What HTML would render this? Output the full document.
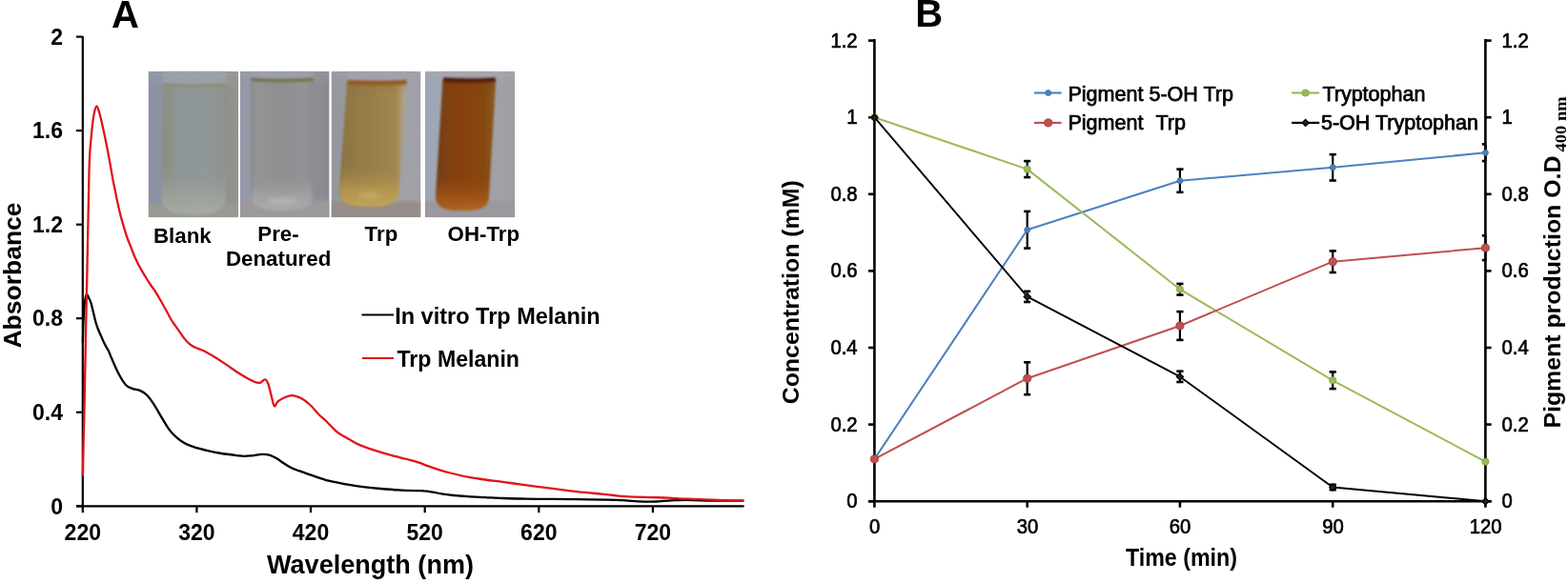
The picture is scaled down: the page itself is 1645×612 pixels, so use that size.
<!DOCTYPE html>
<html><head><meta charset="utf-8"><title>Figure</title>
<style>html,body{margin:0;padding:0;background:#fff;}svg{display:block;}</style>
</head><body>
<svg width="1645" height="612" viewBox="0 0 1645 612">
<rect width="1645" height="612" fill="#fff"/>
<defs><filter id="soft" x="-5%" y="-5%" width="110%" height="110%"><feGaussianBlur stdDeviation="1.0"/></filter><filter id="soft2" x="-20%" y="-20%" width="140%" height="140%"><feGaussianBlur stdDeviation="1.8"/></filter><clipPath id="pc0"><rect x="155.6" y="74.8" width="94.4" height="153.4"/></clipPath><linearGradient id="bgg0" x1="0" y1="0" x2="1" y2="0"><stop offset="0.000" stop-color="#8990a3" stop-opacity="1.00"/><stop offset="0.150" stop-color="#8b92a2" stop-opacity="1.00"/><stop offset="0.850" stop-color="#8f928b" stop-opacity="1.00"/><stop offset="1.000" stop-color="#92938c" stop-opacity="1.00"/></linearGradient><linearGradient id="bgv0" x1="0" y1="0" x2="0" y2="1"><stop offset="0.000" stop-color="#9aa0ab" stop-opacity="0.50"/><stop offset="0.120" stop-color="#9aa0ab" stop-opacity="0.00"/><stop offset="1.000" stop-color="#9aa0ab" stop-opacity="0.00"/></linearGradient><linearGradient id="lq0" x1="0" y1="0" x2="1" y2="0"><stop offset="0.000" stop-color="#8a8f82" stop-opacity="1.00"/><stop offset="0.120" stop-color="#8d9288" stop-opacity="1.00"/><stop offset="0.300" stop-color="#8e9698" stop-opacity="1.00"/><stop offset="0.700" stop-color="#8f9798" stop-opacity="1.00"/><stop offset="0.880" stop-color="#909490" stop-opacity="1.00"/><stop offset="1.000" stop-color="#8e918a" stop-opacity="1.00"/></linearGradient><linearGradient id="lv0" x1="0" y1="0" x2="0" y2="1"><stop offset="0.000" stop-color="#909780" stop-opacity="0.00"/><stop offset="0.600" stop-color="#8f9594" stop-opacity="0.00"/><stop offset="0.850" stop-color="#a0a59e" stop-opacity="0.70"/><stop offset="1.000" stop-color="#a8ada6" stop-opacity="0.90"/></linearGradient><linearGradient id="tb0" x1="0" y1="0" x2="0" y2="1"><stop offset="0.000" stop-color="#979a92" stop-opacity="0.00"/><stop offset="1.000" stop-color="#979a92" stop-opacity="1.00"/></linearGradient><clipPath id="pc1"><rect x="251.8" y="74.8" width="93.8" height="153.4"/></clipPath><linearGradient id="bgg1" x1="0" y1="0" x2="1" y2="0"><stop offset="0.000" stop-color="#9598a9" stop-opacity="1.00"/><stop offset="0.120" stop-color="#9598a6" stop-opacity="1.00"/><stop offset="0.850" stop-color="#8d8e93" stop-opacity="1.00"/><stop offset="1.000" stop-color="#8a8b90" stop-opacity="1.00"/></linearGradient><linearGradient id="bgv1" x1="0" y1="0" x2="0" y2="1"><stop offset="0.000" stop-color="#9ea1ab" stop-opacity="0.40"/><stop offset="0.100" stop-color="#9ea1ab" stop-opacity="0.00"/><stop offset="1.000" stop-color="#9ea1ab" stop-opacity="0.00"/></linearGradient><linearGradient id="lq1" x1="0" y1="0" x2="1" y2="0"><stop offset="0.000" stop-color="#8e8f91" stop-opacity="1.00"/><stop offset="0.120" stop-color="#939496" stop-opacity="1.00"/><stop offset="0.500" stop-color="#8e8f90" stop-opacity="1.00"/><stop offset="0.850" stop-color="#929396" stop-opacity="1.00"/><stop offset="1.000" stop-color="#8d8e92" stop-opacity="1.00"/></linearGradient><linearGradient id="lv1" x1="0" y1="0" x2="0" y2="1"><stop offset="0.000" stop-color="#939597" stop-opacity="0.00"/><stop offset="0.720" stop-color="#919395" stop-opacity="0.00"/><stop offset="0.880" stop-color="#a6a8a8" stop-opacity="0.70"/><stop offset="1.000" stop-color="#b0b1b1" stop-opacity="0.80"/></linearGradient><linearGradient id="tb1" x1="0" y1="0" x2="0" y2="1"><stop offset="0.000" stop-color="#9b999b" stop-opacity="0.00"/><stop offset="1.000" stop-color="#9b999b" stop-opacity="1.00"/></linearGradient><clipPath id="pc2"><rect x="347.5" y="74.8" width="94.0" height="153.4"/></clipPath><linearGradient id="bgg2" x1="0" y1="0" x2="1" y2="0"><stop offset="0.000" stop-color="#95979e" stop-opacity="1.00"/><stop offset="0.120" stop-color="#96989f" stop-opacity="1.00"/><stop offset="0.850" stop-color="#a0a2a8" stop-opacity="1.00"/><stop offset="1.000" stop-color="#9fa1a7" stop-opacity="1.00"/></linearGradient><linearGradient id="bgv2" x1="0" y1="0" x2="0" y2="1"><stop offset="0.000" stop-color="#a2a3a8" stop-opacity="0.40"/><stop offset="0.100" stop-color="#a2a3a8" stop-opacity="0.00"/><stop offset="1.000" stop-color="#a2a3a8" stop-opacity="0.00"/></linearGradient><linearGradient id="lq2" x1="0" y1="0" x2="1" y2="0"><stop offset="0.000" stop-color="#7e6a40" stop-opacity="1.00"/><stop offset="0.080" stop-color="#8f7545" stop-opacity="1.00"/><stop offset="0.500" stop-color="#987e48" stop-opacity="1.00"/><stop offset="0.840" stop-color="#a08650" stop-opacity="1.00"/><stop offset="0.930" stop-color="#ad9f80" stop-opacity="1.00"/><stop offset="1.000" stop-color="#b2aa98" stop-opacity="1.00"/></linearGradient><linearGradient id="lv2" x1="0" y1="0" x2="0" y2="1"><stop offset="0.000" stop-color="#8e6a3c" stop-opacity="0.50"/><stop offset="0.100" stop-color="#937a46" stop-opacity="0.00"/><stop offset="0.650" stop-color="#9c8048" stop-opacity="0.00"/><stop offset="0.850" stop-color="#b99a50" stop-opacity="0.75"/><stop offset="1.000" stop-color="#c8a85a" stop-opacity="0.90"/></linearGradient><linearGradient id="tb2" x1="0" y1="0" x2="0" y2="1"><stop offset="0.000" stop-color="#968d8a" stop-opacity="0.00"/><stop offset="1.000" stop-color="#968d8a" stop-opacity="1.00"/></linearGradient><clipPath id="pc3"><rect x="446.0" y="74.8" width="94.3" height="153.4"/></clipPath><linearGradient id="bgg3" x1="0" y1="0" x2="1" y2="0"><stop offset="0.000" stop-color="#9da5b6" stop-opacity="1.00"/><stop offset="0.120" stop-color="#a0a6b4" stop-opacity="1.00"/><stop offset="0.850" stop-color="#a0a0a6" stop-opacity="1.00"/><stop offset="1.000" stop-color="#9c9ca2" stop-opacity="1.00"/></linearGradient><linearGradient id="bgv3" x1="0" y1="0" x2="0" y2="1"><stop offset="0.000" stop-color="#acacb0" stop-opacity="0.50"/><stop offset="0.080" stop-color="#acacb0" stop-opacity="0.00"/><stop offset="1.000" stop-color="#acacb0" stop-opacity="0.00"/></linearGradient><linearGradient id="lq3" x1="0" y1="0" x2="1" y2="0"><stop offset="0.000" stop-color="#6c3a1a" stop-opacity="1.00"/><stop offset="0.120" stop-color="#7c3f14" stop-opacity="1.00"/><stop offset="0.450" stop-color="#88400c" stop-opacity="1.00"/><stop offset="0.820" stop-color="#86480f" stop-opacity="1.00"/><stop offset="1.000" stop-color="#8a5d24" stop-opacity="1.00"/></linearGradient><linearGradient id="lv3" x1="0" y1="0" x2="0" y2="1"><stop offset="0.000" stop-color="#763614" stop-opacity="0.40"/><stop offset="0.100" stop-color="#84400e" stop-opacity="0.00"/><stop offset="0.700" stop-color="#8a420d" stop-opacity="0.00"/><stop offset="0.880" stop-color="#a45618" stop-opacity="0.70"/><stop offset="1.000" stop-color="#b86828" stop-opacity="0.90"/></linearGradient><linearGradient id="tb3" x1="0" y1="0" x2="0" y2="1"><stop offset="0.000" stop-color="#9b989e" stop-opacity="0.00"/><stop offset="1.000" stop-color="#9b989e" stop-opacity="1.00"/></linearGradient></defs>
<g clip-path="url(#pc0)">
<rect x="155.6" y="74.8" width="94.4" height="153.4" fill="url(#bgg0)"/>
<rect x="155.6" y="74.8" width="94.4" height="153.4" fill="url(#bgv0)"/>
<rect x="155.6" y="211.0" width="94.4" height="5.0" fill="url(#tb0)"/>
<rect x="155.6" y="216.0" width="94.4" height="12.2" fill="#979a92"/>
<g filter="url(#soft)">
<rect x="171.0" y="71.8" width="66.5" height="16.7" fill="#9ba1ab" opacity="0.90"/>
<path d="M171.0,88.5 Q204.2,91.0 237.5,88.5 L237.0,206.4 C237.0,223.3 221.8,225.0 203.2,225.0 C184.7,225.0 169.5,223.3 169.5,206.4 Z" fill="url(#lq0)"/>
<path d="M171.0,88.5 Q204.2,91.0 237.5,88.5 L237.0,206.4 C237.0,223.3 221.8,225.0 203.2,225.0 C184.7,225.0 169.5,223.3 169.5,206.4 Z" fill="url(#lv0)"/>
<path d="M171.5,88.5 Q204.2,91.7 237.0,88.5" stroke="#88906e" stroke-width="3.2" fill="none"/>
</g>
</g>
<g clip-path="url(#pc1)">
<rect x="251.8" y="74.8" width="93.8" height="153.4" fill="url(#bgg1)"/>
<rect x="251.8" y="74.8" width="93.8" height="153.4" fill="url(#bgv1)"/>
<rect x="251.8" y="208.0" width="93.8" height="5.0" fill="url(#tb1)"/>
<rect x="251.8" y="213.0" width="93.8" height="15.2" fill="#9b999b"/>
<g filter="url(#soft)">
<rect x="263.0" y="71.8" width="66.4" height="11.5" fill="#9ea2ac" opacity="0.70"/>
<path d="M263.0,83.3 Q296.2,85.8 329.4,83.3 L329.0,202.8 C329.0,219.3 314.1,221.0 296.0,221.0 C277.9,221.0 263.0,219.3 263.0,202.8 Z" fill="url(#lq1)"/>
<path d="M263.0,83.3 Q296.2,85.8 329.4,83.3 L329.0,202.8 C329.0,219.3 314.1,221.0 296.0,221.0 C277.9,221.0 263.0,219.3 263.0,202.8 Z" fill="url(#lv1)"/>
<path d="M264.5,83.3 L264.5,206.0" stroke="#85868a" stroke-opacity="0.35" stroke-width="3.0"/>
<path d="M327.9,83.3 L327.5,206.0" stroke="#85868a" stroke-opacity="0.35" stroke-width="3.0"/>
<ellipse cx="296.0" cy="211.0" rx="16.0" ry="4.0" fill="#c8caca" opacity="0.35" filter="url(#soft2)"/>
<path d="M263.5,83.3 Q296.2,85.7 328.9,83.3" stroke="#77764f" stroke-width="4.0" fill="none"/>
</g>
</g>
<g clip-path="url(#pc2)">
<rect x="347.5" y="74.8" width="94.0" height="153.4" fill="url(#bgg2)"/>
<rect x="347.5" y="74.8" width="94.0" height="153.4" fill="url(#bgv2)"/>
<rect x="347.5" y="209.0" width="94.0" height="5.0" fill="url(#tb2)"/>
<rect x="347.5" y="214.0" width="94.0" height="14.2" fill="#968d8a"/>
<g filter="url(#soft)">
<rect x="364.0" y="71.8" width="63.0" height="14.2" fill="#a3a4aa" opacity="0.80"/>
<path d="M364.0,86.0 Q395.5,88.5 427.0,86.0 L418.5,199.8 C418.5,215.4 404.4,217.0 387.2,217.0 C370.1,217.0 356.0,215.4 356.0,199.8 Z" fill="url(#lq2)"/>
<path d="M364.0,86.0 Q395.5,88.5 427.0,86.0 L418.5,199.8 C418.5,215.4 404.4,217.0 387.2,217.0 C370.1,217.0 356.0,215.4 356.0,199.8 Z" fill="url(#lv2)"/>
<ellipse cx="387.2" cy="205.0" rx="12.0" ry="4.0" fill="#d8c080" opacity="0.30" filter="url(#soft2)"/>
<path d="M364.5,86.0 Q395.5,88.0 426.5,86.0" stroke="#965a23" stroke-width="5.0" fill="none"/>
</g>
</g>
<g clip-path="url(#pc3)">
<rect x="446.0" y="74.8" width="94.3" height="153.4" fill="url(#bgg3)"/>
<rect x="446.0" y="74.8" width="94.3" height="153.4" fill="url(#bgv3)"/>
<rect x="446.0" y="209.0" width="94.3" height="5.0" fill="url(#tb3)"/>
<rect x="446.0" y="214.0" width="94.3" height="14.2" fill="#9b989e"/>
<g filter="url(#soft)">
<rect x="464.5" y="71.8" width="55.7" height="11.5" fill="#a8a8ac" opacity="0.80"/>
<path d="M464.5,83.3 Q492.4,85.8 520.2,83.3 L513.0,205.6 C513.0,219.6 500.4,221.0 485.0,221.0 C469.6,221.0 457.0,219.6 457.0,205.6 Z" fill="url(#lq3)"/>
<path d="M464.5,83.3 Q492.4,85.8 520.2,83.3 L513.0,205.6 C513.0,219.6 500.4,221.0 485.0,221.0 C469.6,221.0 457.0,219.6 457.0,205.6 Z" fill="url(#lv3)"/>
<path d="M465.0,83.3 Q492.4,85.3 519.7,83.3" stroke="#52200f" stroke-width="5.2" fill="none"/>
</g>
</g>
<g stroke="#000" stroke-width="2.2" fill="none" stroke-linecap="butt">
<line x1="86.8" y1="38" x2="86.8" y2="532.4"/>
<line x1="80" y1="531.3" x2="780.6" y2="531.3"/>
<line x1="80" y1="531.3" x2="86.8" y2="531.3"/>
<line x1="80" y1="432.8" x2="86.8" y2="432.8"/>
<line x1="80" y1="334.2" x2="86.8" y2="334.2"/>
<line x1="80" y1="235.7" x2="86.8" y2="235.7"/>
<line x1="80" y1="137.1" x2="86.8" y2="137.1"/>
<line x1="80" y1="38.6" x2="86.8" y2="38.6"/>
<line x1="86.8" y1="531.3" x2="86.8" y2="538.2"/>
<line x1="206.4" y1="531.3" x2="206.4" y2="538.2"/>
<line x1="326.0" y1="531.3" x2="326.0" y2="538.2"/>
<line x1="445.7" y1="531.3" x2="445.7" y2="538.2"/>
<line x1="565.3" y1="531.3" x2="565.3" y2="538.2"/>
<line x1="684.9" y1="531.3" x2="684.9" y2="538.2"/>
</g>
<path d="M86.9,360.0 C87.0,355.8 87.3,342.0 87.6,335.0 C87.9,328.0 88.4,322.3 88.9,318.0 C89.4,313.7 90.1,310.1 90.8,309.3 C91.5,308.5 92.4,311.4 93.2,313.0 C94.0,314.6 94.4,314.4 95.7,318.9 C97.0,323.4 99.2,334.1 100.9,339.8 C102.6,345.5 104.6,349.3 106.1,352.9 C107.6,356.5 108.7,359.0 110.0,361.6 C111.3,364.2 112.8,366.1 114.0,368.6 C115.2,371.1 115.6,372.8 117.4,376.8 C119.2,380.8 122.2,388.1 124.7,392.7 C127.2,397.3 129.7,401.6 132.1,404.2 C134.5,406.8 136.9,407.2 139.4,408.1 C141.9,409.1 144.4,408.8 146.8,409.9 C149.2,411.0 151.7,412.4 154.1,414.8 C156.5,417.2 159.1,420.9 161.5,424.6 C163.9,428.3 166.4,432.7 168.8,436.8 C171.2,440.9 173.8,445.6 176.2,449.1 C178.6,452.6 180.7,455.0 183.5,457.6 C186.3,460.2 190.0,463.1 193.3,465.0 C196.6,466.9 199.0,467.8 203.1,469.2 C207.2,470.6 212.9,472.0 217.8,473.1 C222.7,474.2 227.4,475.2 232.5,476.0 C237.6,476.8 244.2,477.6 248.2,478.1 C252.2,478.6 253.6,478.9 256.3,478.9 C259.0,478.9 261.4,478.6 264.5,478.3 C267.6,478.0 272.0,477.0 275.1,476.9 C278.2,476.8 280.7,477.1 283.3,477.9 C285.9,478.7 288.4,480.2 290.7,481.6 C293.0,483.0 294.8,484.4 297.2,486.0 C299.6,487.6 302.7,489.6 305.4,491.0 C308.1,492.4 310.8,493.2 313.5,494.2 C316.2,495.2 319.0,496.2 321.7,497.1 C324.4,498.1 326.1,498.6 329.9,499.9 C333.7,501.2 339.2,503.3 344.7,504.7 C350.2,506.1 356.9,507.3 363.0,508.4 C369.1,509.5 375.1,510.3 381.2,511.1 C387.3,511.9 393.3,512.5 399.4,513.0 C405.5,513.5 411.6,514.0 417.7,514.4 C423.8,514.8 431.3,515.0 435.9,515.1 C440.4,515.2 442.0,515.0 445.0,515.3 C448.0,515.5 451.1,516.1 454.1,516.6 C457.2,517.1 460.2,517.9 463.3,518.4 C466.4,518.9 467.8,519.2 472.4,519.7 C476.9,520.2 484.5,520.8 490.6,521.2 C496.7,521.6 502.8,521.8 508.9,522.1 C515.0,522.4 521.0,522.8 527.1,523.0 C533.2,523.2 539.2,523.4 545.3,523.5 C551.4,523.6 557.8,523.8 563.6,523.9 C569.4,524.0 573.0,523.9 580.0,523.9 C587.0,523.9 595.9,524.0 605.5,524.1 C615.1,524.2 628.9,524.4 637.4,524.6 C645.9,524.8 651.3,525.1 656.6,525.4 C661.9,525.7 664.1,526.1 669.4,526.3 C674.7,526.5 682.1,526.7 688.5,526.5 C694.9,526.3 702.4,525.5 707.7,525.2 C713.0,524.9 714.0,524.7 720.4,524.8 C726.8,524.9 736.0,525.5 746.0,525.6 C756.0,525.7 774.7,525.6 780.4,525.6" fill="none" stroke="#000" stroke-width="2.3" stroke-linejoin="round"/>
<path d="M86.9,499.5 C87.0,494.6 87.2,483.2 87.5,470.0 C87.8,456.8 88.3,440.0 88.7,420.0 C89.1,400.0 89.6,371.7 90.0,350.0 C90.4,328.3 90.9,308.3 91.3,290.0 C91.7,271.7 91.9,258.3 92.3,240.0 C92.7,221.7 93.2,193.5 93.5,180.0 C93.8,166.5 94.1,164.5 94.4,158.8 C94.7,153.1 95.1,150.2 95.5,145.8 C95.9,141.5 96.3,137.0 96.8,132.7 C97.3,128.4 97.8,123.3 98.6,119.8 C99.3,116.3 100.3,111.7 101.3,111.5 C102.3,111.3 103.3,115.3 104.4,118.8 C105.5,122.3 106.7,128.2 107.7,132.7 C108.7,137.2 109.6,141.4 110.5,145.8 C111.4,150.2 112.2,154.3 113.1,159.0 C114.0,163.7 115.0,169.0 115.9,174.0 C116.8,179.0 117.7,184.7 118.5,189.0 C119.3,193.3 120.1,196.5 120.8,200.0 C121.5,203.5 122.1,206.7 122.8,210.0 C123.5,213.3 124.2,216.7 125.0,220.0 C125.8,223.3 126.6,226.7 127.5,230.0 C128.4,233.3 129.5,236.7 130.5,240.0 C131.5,243.3 132.4,246.7 133.6,250.0 C134.8,253.3 136.3,256.7 137.6,260.0 C138.9,263.3 140.0,266.7 141.5,270.0 C143.0,273.3 144.6,276.7 146.4,280.0 C148.2,283.3 150.4,286.8 152.3,290.0 C154.2,293.2 156.3,296.5 158.0,299.0 C159.7,301.5 160.8,302.8 162.3,305.0 C163.8,307.2 165.3,310.0 166.8,312.5 C168.3,315.0 169.5,317.1 171.1,320.0 C172.7,322.9 175.1,327.2 176.6,330.0 C178.1,332.8 178.8,334.3 180.2,336.5 C181.6,338.7 183.3,340.9 184.8,343.1 C186.3,345.3 187.9,347.4 189.4,349.6 C190.9,351.8 192.4,354.1 194.0,356.1 C195.6,358.1 197.5,360.0 199.2,361.4 C200.9,362.8 202.7,363.7 204.4,364.6 C206.1,365.5 208.0,365.9 209.6,366.6 C211.2,367.3 211.2,367.0 214.2,368.6 C217.2,370.2 223.7,373.9 227.6,376.3 C231.5,378.7 233.4,380.2 237.5,382.9 C241.6,385.6 247.3,389.7 252.2,392.7 C257.1,395.7 263.4,399.3 266.9,400.8 C270.4,402.3 271.2,402.2 273.0,401.8 C274.8,401.4 276.5,398.1 277.9,398.3 C279.3,398.5 280.3,400.1 281.4,403.0 C282.5,405.9 283.6,411.7 284.7,415.6 C285.8,419.5 286.6,425.4 287.8,426.3 C289.0,427.2 289.8,422.8 291.6,421.3 C293.4,419.8 296.1,418.2 298.6,417.2 C301.1,416.2 304.1,415.1 306.8,415.2 C309.5,415.3 312.0,416.1 315.0,417.6 C318.0,419.2 321.5,421.6 324.8,424.5 C328.1,427.4 331.6,432.2 334.6,435.2 C337.6,438.2 339.5,439.4 342.7,442.5 C345.9,445.6 350.4,450.9 353.8,453.7 C357.2,456.5 359.4,457.1 363.0,459.2 C366.6,461.3 371.1,464.3 375.7,466.4 C380.2,468.5 384.8,470.1 390.3,471.9 C395.8,473.7 402.4,475.7 408.5,477.4 C414.6,479.1 421.6,480.6 426.8,482.0 C432.0,483.4 436.0,484.4 439.6,485.6 C443.2,486.8 445.4,488.0 448.7,489.2 C452.0,490.4 455.7,491.7 459.6,492.9 C463.6,494.1 467.2,495.2 472.4,496.5 C477.6,497.8 484.5,499.5 490.6,500.7 C496.7,501.9 502.8,502.6 508.9,503.5 C515.0,504.4 520.4,505.0 527.1,505.9 C533.8,506.8 542.9,508.1 549.0,508.9 C555.1,509.7 558.4,510.1 563.6,510.8 C568.8,511.5 573.0,512.0 580.0,512.9 C587.0,513.8 597.0,515.1 605.5,516.1 C614.0,517.1 622.6,517.8 631.1,518.6 C639.6,519.5 648.1,520.6 656.6,521.2 C665.1,521.8 674.7,521.9 682.1,522.1 C689.5,522.3 694.9,522.3 701.3,522.6 C707.7,522.9 712.9,523.4 720.4,523.7 C727.9,524.0 736.0,524.3 746.0,524.6 C756.0,524.9 774.7,525.4 780.4,525.6" fill="none" stroke="#e0141a" stroke-width="2.3" stroke-linejoin="round"/>
<g font-family="'Liberation Sans', Arial, sans-serif" font-weight="bold" font-size="23" fill="#000">
<text x="66" y="539.5" text-anchor="end">0</text>
<text x="66" y="441.0" text-anchor="end">0.4</text>
<text x="66" y="342.4" text-anchor="end">0.8</text>
<text x="66" y="243.9" text-anchor="end">1.2</text>
<text x="66" y="145.3" text-anchor="end">1.6</text>
<text x="66" y="46.8" text-anchor="end">2</text>
<text x="86.8" y="566.8" text-anchor="middle">220</text>
<text x="206.4" y="566.8" text-anchor="middle">320</text>
<text x="326.0" y="566.8" text-anchor="middle">420</text>
<text x="445.7" y="566.8" text-anchor="middle">520</text>
<text x="565.3" y="566.8" text-anchor="middle">620</text>
<text x="684.9" y="566.8" text-anchor="middle">720</text>
</g>
<text x="280" y="602" font-family="'Liberation Sans', Arial, sans-serif" font-weight="bold" font-size="27" textLength="217" lengthAdjust="spacingAndGlyphs">Wavelength (nm)</text>
<text transform="translate(22.3,365.5) rotate(-90)" font-family="'Liberation Sans', Arial, sans-serif" font-weight="bold" font-size="26.5" textLength="153" lengthAdjust="spacingAndGlyphs">Absorbance</text>
<text x="117" y="28.6" font-family="'Liberation Sans', Arial, sans-serif" font-weight="bold" font-size="40">A</text>
<line x1="379.5" y1="330.5" x2="413" y2="330.5" stroke="#000" stroke-width="2.2"/>
<line x1="380" y1="376" x2="413" y2="376" stroke="#e0141a" stroke-width="2.2"/>
<g font-family="'Liberation Sans', Arial, sans-serif" font-weight="bold" font-size="23" fill="#000">
<text x="414.2" y="339.9" textLength="215.5" lengthAdjust="spacingAndGlyphs">In vitro Trp Melanin</text>
<text x="416.5" y="385" textLength="128.5" lengthAdjust="spacingAndGlyphs">Trp Melanin</text>
</g>
<g font-family="'Liberation Sans', Arial, sans-serif" font-weight="bold" font-size="22.3" fill="#000">
<text x="161" y="254.6">Blank</text>
<text x="292" y="252.9" text-anchor="middle">Pre-</text>
<text x="237" y="278.5">Denatured</text>
<text x="382.6" y="252.9">Trp</text>
<text x="469.6" y="252.9">OH-Trp</text>
</g>
<g stroke="#000" stroke-width="2.6" fill="none">
<line x1="917.4" y1="41" x2="917.4" y2="527.5"/>
<line x1="1558.4" y1="41" x2="1558.4" y2="527.5"/>
<line x1="911" y1="526.2" x2="1564.6" y2="526.2"/>
<line x1="911" y1="526.2" x2="917.4" y2="526.2"/>
<line x1="1558.4" y1="526.2" x2="1564.6" y2="526.2"/>
<line x1="911" y1="445.6" x2="917.4" y2="445.6"/>
<line x1="1558.4" y1="445.6" x2="1564.6" y2="445.6"/>
<line x1="911" y1="365.0" x2="917.4" y2="365.0"/>
<line x1="1558.4" y1="365.0" x2="1564.6" y2="365.0"/>
<line x1="911" y1="284.4" x2="917.4" y2="284.4"/>
<line x1="1558.4" y1="284.4" x2="1564.6" y2="284.4"/>
<line x1="911" y1="203.8" x2="917.4" y2="203.8"/>
<line x1="1558.4" y1="203.8" x2="1564.6" y2="203.8"/>
<line x1="911" y1="123.2" x2="917.4" y2="123.2"/>
<line x1="1558.4" y1="123.2" x2="1564.6" y2="123.2"/>
<line x1="911" y1="42.6" x2="917.4" y2="42.6"/>
<line x1="1558.4" y1="42.6" x2="1564.6" y2="42.6"/>
<line x1="917.4" y1="526.2" x2="917.4" y2="532.7"/>
<line x1="1077.7" y1="526.2" x2="1077.7" y2="532.7"/>
<line x1="1237.9" y1="526.2" x2="1237.9" y2="532.7"/>
<line x1="1398.2" y1="526.2" x2="1398.2" y2="532.7"/>
<line x1="1558.4" y1="526.2" x2="1558.4" y2="532.7"/>
</g>
<polyline points="917.4,481.9 1077.7,241.3 1237.9,189.7 1398.2,175.8 1558.4,160.3" fill="none" stroke="#4f81bd" stroke-width="2.0" stroke-linejoin="round"/>
<g stroke="#000" stroke-width="2.2" fill="none">
<line x1="1077.7" y1="221.9" x2="1077.7" y2="260.6"/>
<line x1="1074.1" y1="221.9" x2="1081.2" y2="221.9" stroke-width="2.6"/>
<line x1="1074.1" y1="260.6" x2="1081.2" y2="260.6" stroke-width="2.6"/>
<line x1="1237.9" y1="177.6" x2="1237.9" y2="201.8"/>
<line x1="1234.3" y1="177.6" x2="1241.5" y2="177.6" stroke-width="2.6"/>
<line x1="1234.3" y1="201.8" x2="1241.5" y2="201.8" stroke-width="2.6"/>
<line x1="1398.2" y1="162.1" x2="1398.2" y2="189.5"/>
<line x1="1394.6" y1="162.1" x2="1401.8" y2="162.1" stroke-width="2.6"/>
<line x1="1394.6" y1="189.5" x2="1401.8" y2="189.5" stroke-width="2.6"/>
<line x1="1558.4" y1="151.4" x2="1558.4" y2="169.1"/>
<line x1="1554.8" y1="151.4" x2="1558.4" y2="151.4" stroke-width="2.6"/>
<line x1="1554.8" y1="169.1" x2="1558.4" y2="169.1" stroke-width="2.6"/>
</g>
<circle cx="917.4" cy="481.9" r="3.0" fill="#4f81bd" stroke="#3d6aa0" stroke-width="0.8"/>
<circle cx="1077.7" cy="241.3" r="3.0" fill="#4f81bd" stroke="#3d6aa0" stroke-width="0.8"/>
<circle cx="1237.9" cy="189.7" r="3.0" fill="#4f81bd" stroke="#3d6aa0" stroke-width="0.8"/>
<circle cx="1398.2" cy="175.8" r="3.0" fill="#4f81bd" stroke="#3d6aa0" stroke-width="0.8"/>
<circle cx="1558.4" cy="160.3" r="3.0" fill="#4f81bd" stroke="#3d6aa0" stroke-width="0.8"/>
<polyline points="917.4,123.2 1077.7,177.6 1237.9,303.7 1398.2,399.3 1558.4,484.7" fill="none" stroke="#9bbb59" stroke-width="2.0" stroke-linejoin="round"/>
<g stroke="#000" stroke-width="2.2" fill="none">
<line x1="1077.7" y1="169.1" x2="1077.7" y2="186.1"/>
<line x1="1074.1" y1="169.1" x2="1081.2" y2="169.1" stroke-width="2.6"/>
<line x1="1074.1" y1="186.1" x2="1081.2" y2="186.1" stroke-width="2.6"/>
<line x1="1237.9" y1="297.9" x2="1237.9" y2="309.6"/>
<line x1="1234.3" y1="297.9" x2="1241.5" y2="297.9" stroke-width="2.6"/>
<line x1="1234.3" y1="309.6" x2="1241.5" y2="309.6" stroke-width="2.6"/>
<line x1="1398.2" y1="390.4" x2="1398.2" y2="408.1"/>
<line x1="1394.6" y1="390.4" x2="1401.8" y2="390.4" stroke-width="2.6"/>
<line x1="1394.6" y1="408.1" x2="1401.8" y2="408.1" stroke-width="2.6"/>
</g>
<circle cx="917.4" cy="123.2" r="3.6" fill="#9bbb59" stroke="#7d9a45" stroke-width="0.8"/>
<circle cx="1077.7" cy="177.6" r="3.6" fill="#9bbb59" stroke="#7d9a45" stroke-width="0.8"/>
<circle cx="1237.9" cy="303.7" r="3.6" fill="#9bbb59" stroke="#7d9a45" stroke-width="0.8"/>
<circle cx="1398.2" cy="399.3" r="3.6" fill="#9bbb59" stroke="#7d9a45" stroke-width="0.8"/>
<circle cx="1558.4" cy="484.7" r="3.6" fill="#9bbb59" stroke="#7d9a45" stroke-width="0.8"/>
<polyline points="917.4,481.9 1077.7,397.2 1237.9,342.0 1398.2,274.7 1558.4,260.2" fill="none" stroke="#c0504d" stroke-width="2.0" stroke-linejoin="round"/>
<g stroke="#000" stroke-width="2.2" fill="none">
<line x1="1077.7" y1="380.3" x2="1077.7" y2="414.2"/>
<line x1="1074.1" y1="380.3" x2="1081.2" y2="380.3" stroke-width="2.6"/>
<line x1="1074.1" y1="414.2" x2="1081.2" y2="414.2" stroke-width="2.6"/>
<line x1="1237.9" y1="327.1" x2="1237.9" y2="356.9"/>
<line x1="1234.3" y1="327.1" x2="1241.5" y2="327.1" stroke-width="2.6"/>
<line x1="1234.3" y1="356.9" x2="1241.5" y2="356.9" stroke-width="2.6"/>
<line x1="1398.2" y1="263.4" x2="1398.2" y2="286.0"/>
<line x1="1394.6" y1="263.4" x2="1401.8" y2="263.4" stroke-width="2.6"/>
<line x1="1394.6" y1="286.0" x2="1401.8" y2="286.0" stroke-width="2.6"/>
<line x1="1558.4" y1="247.3" x2="1558.4" y2="273.1"/>
<line x1="1554.8" y1="247.3" x2="1558.4" y2="247.3" stroke-width="2.6"/>
<line x1="1554.8" y1="273.1" x2="1558.4" y2="273.1" stroke-width="2.6"/>
</g>
<circle cx="917.4" cy="481.9" r="4.1" fill="#c0504d" stroke="#9c3d3a" stroke-width="0.8"/>
<circle cx="1077.7" cy="397.2" r="4.1" fill="#c0504d" stroke="#9c3d3a" stroke-width="0.8"/>
<circle cx="1237.9" cy="342.0" r="4.1" fill="#c0504d" stroke="#9c3d3a" stroke-width="0.8"/>
<circle cx="1398.2" cy="274.7" r="4.1" fill="#c0504d" stroke="#9c3d3a" stroke-width="0.8"/>
<circle cx="1558.4" cy="260.2" r="4.1" fill="#c0504d" stroke="#9c3d3a" stroke-width="0.8"/>
<polyline points="917.4,123.2 1077.7,311.4 1237.9,395.4 1398.2,511.5 1558.4,526.2" fill="none" stroke="#000000" stroke-width="1.9" stroke-linejoin="round"/>
<g stroke="#000" stroke-width="2.2" fill="none">
<line x1="1077.7" y1="305.8" x2="1077.7" y2="317.0"/>
<line x1="1074.1" y1="305.8" x2="1081.2" y2="305.8" stroke-width="2.6"/>
<line x1="1074.1" y1="317.0" x2="1081.2" y2="317.0" stroke-width="2.6"/>
<line x1="1237.9" y1="389.7" x2="1237.9" y2="401.0"/>
<line x1="1234.3" y1="389.7" x2="1241.5" y2="389.7" stroke-width="2.6"/>
<line x1="1234.3" y1="401.0" x2="1241.5" y2="401.0" stroke-width="2.6"/>
<line x1="1398.2" y1="508.8" x2="1398.2" y2="514.2"/>
<line x1="1394.6" y1="508.8" x2="1401.8" y2="508.8" stroke-width="2.6"/>
<line x1="1394.6" y1="514.2" x2="1401.8" y2="514.2" stroke-width="2.6"/>
</g>
<path d="M917.4,119.6 l3.6,3.6 l-3.6,3.6 l-3.6,-3.6 z" fill="#222" stroke="#000" stroke-width="1.2"/>
<path d="M1077.7,307.8 l3.6,3.6 l-3.6,3.6 l-3.6,-3.6 z" fill="#222" stroke="#000" stroke-width="1.2"/>
<path d="M1237.9,391.8 l3.6,3.6 l-3.6,3.6 l-3.6,-3.6 z" fill="#222" stroke="#000" stroke-width="1.2"/>
<path d="M1398.2,507.9 l3.6,3.6 l-3.6,3.6 l-3.6,-3.6 z" fill="#222" stroke="#000" stroke-width="1.2"/>
<path d="M1558.4,522.6 l3.6,3.6 l-3.6,3.6 l-3.6,-3.6 z" fill="#222" stroke="#000" stroke-width="1.2"/>
<g font-family="'Liberation Sans', Arial, sans-serif" font-size="21.8" fill="#000" stroke="#000" stroke-width="0.7">
<text transform="translate(899.6,533.2) scale(0.930,1)" text-anchor="end">0</text>
<text transform="translate(1575.6,533.2) scale(0.930,1)">0</text>
<text transform="translate(899.6,452.6) scale(0.930,1)" text-anchor="end">0.2</text>
<text transform="translate(1575.6,452.6) scale(0.930,1)">0.2</text>
<text transform="translate(899.6,372.0) scale(0.930,1)" text-anchor="end">0.4</text>
<text transform="translate(1575.6,372.0) scale(0.930,1)">0.4</text>
<text transform="translate(899.6,291.4) scale(0.930,1)" text-anchor="end">0.6</text>
<text transform="translate(1575.6,291.4) scale(0.930,1)">0.6</text>
<text transform="translate(899.6,210.8) scale(0.930,1)" text-anchor="end">0.8</text>
<text transform="translate(1575.6,210.8) scale(0.930,1)">0.8</text>
<text transform="translate(899.6,130.2) scale(0.930,1)" text-anchor="end">1</text>
<text transform="translate(1575.6,130.2) scale(0.930,1)">1</text>
<text transform="translate(899.6,49.6) scale(0.930,1)" text-anchor="end">1.2</text>
<text transform="translate(1575.6,49.6) scale(0.930,1)">1.2</text>
<text transform="translate(917.6,560.3) scale(0.930,1)" text-anchor="middle">0</text>
<text transform="translate(1077.9,560.3) scale(0.930,1)" text-anchor="middle">30</text>
<text transform="translate(1238.1,560.3) scale(0.930,1)" text-anchor="middle">60</text>
<text transform="translate(1398.4,560.3) scale(0.930,1)" text-anchor="middle">90</text>
<text transform="translate(1558.6,560.3) scale(0.930,1)" text-anchor="middle">120</text>
</g>
<text x="1181" y="594.2" font-family="'Liberation Sans', Arial, sans-serif" font-weight="bold" font-size="25" textLength="117" lengthAdjust="spacingAndGlyphs">Time (min)</text>
<text transform="translate(837.8,424.3) rotate(-90)" font-family="'Liberation Sans', Arial, sans-serif" font-weight="bold" font-size="24" textLength="235" lengthAdjust="spacingAndGlyphs">Concentration (mM)</text>
<text transform="translate(1637.2,449.6) rotate(-90)" font-family="'Liberation Sans', Arial, sans-serif" font-weight="bold" font-size="24.3" fill="#000" textLength="286" lengthAdjust="spacingAndGlyphs">Pigment production O.D</text>
<text transform="translate(1643.3,159.4) rotate(-90)" font-family="'Liberation Serif', 'Times New Roman', serif" font-weight="bold" font-size="16.5" fill="#000" textLength="58" lengthAdjust="spacingAndGlyphs">400 nm</text>
<text x="960.3" y="28.4" font-family="'Liberation Sans', Arial, sans-serif" font-weight="bold" font-size="40">B</text>
<g stroke-width="2.2">
<line x1="1085" y1="97.5" x2="1113.6" y2="97.5" stroke="#4f81bd"/>
<line x1="1085" y1="128.9" x2="1113.6" y2="128.9" stroke="#c0504d"/>
<line x1="1355" y1="97.5" x2="1384.2" y2="97.5" stroke="#9bbb59"/>
<line x1="1355" y1="128.9" x2="1384.2" y2="128.9" stroke="#000"/>
</g>
<circle cx="1099.7" cy="97.5" r="3.0" fill="#4f81bd" stroke="#3d6aa0" stroke-width="0.8"/>
<circle cx="1099.7" cy="128.9" r="4.1" fill="#c0504d" stroke="#9c3d3a" stroke-width="0.8"/>
<circle cx="1369.6" cy="97.5" r="3.6" fill="#9bbb59" stroke="#7d9a45" stroke-width="0.8"/>
<path d="M1369.6,125.3 l3.6,3.6 l-3.6,3.6 l-3.6,-3.6 z" fill="#222" stroke="#000" stroke-width="1.2"/>
<g font-family="'Liberation Sans', Arial, sans-serif" font-size="21.5" fill="#000" stroke="#000" stroke-width="0.75">
<text x="1120.5" y="105.6">Pigment</text>
<text x="1205.5" y="105.6">5-OH Trp</text>
<text x="1120.5" y="136.4">Pigment</text>
<text x="1212.4" y="136.4">Trp</text>
<text x="1387.4" y="105.8">Tryptophan</text>
<text x="1386" y="136.3">5-OH Tryptophan</text>
</g>
</svg>
</body></html>
